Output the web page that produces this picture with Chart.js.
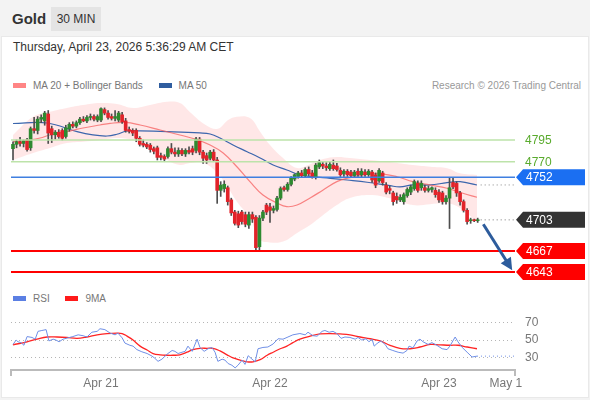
<!DOCTYPE html>
<html>
<head>
<meta charset="utf-8">
<title>Gold 30 MIN</title>
<script src="https://cdn.jsdelivr.net/npm/chart.js@4"></script>
<style>
  body {
    margin: 0;
    width: 590px;
    height: 400px;
    background: #f3f3f3;
    font-family: "Liberation Sans", Arial, sans-serif;
    position: relative;
    overflow: hidden;
  }
  .title { position: absolute; left: 12px; top: 10px; font-size: 15px; font-weight: bold; color: #333; }
  .badge {
    position: absolute; left: 51px; top: 7px; width: 50px; height: 24px; line-height: 24px;
    text-align: center; background: #e4e4e4; font-size: 12px; color: #333;
  }
  .card { position: absolute; left: 1px; top: 36px; width: 586px; height: 360px; background: #fff; border: 1px solid #e9e9e9; }
  .date { position: absolute; left: 13px; top: 40px; font-size: 12px; color: #333; }
  .legend { position: absolute; left: 13px; font-size: 10px; color: #777; white-space: nowrap; }
  .legend span.sw { display: inline-block; width: 13px; height: 5px; vertical-align: middle; margin-right: 7px; position: relative; top: -1px; }
  .legend span.item { margin-right: 13px; }
  .credit { position: absolute; right: 9px; top: 80px; font-size: 10px; color: #999; }
  canvas { position: absolute; left: 0; }
</style>
</head>
<body>

<div class="title">Gold</div>
<div class="badge">30 MIN</div>
<div class="card"></div>
<div class="date">Thursday, April 23, 2026 5:36:29 AM CET</div>

<div class="legend" style="top:80px">
  <span class="item"><span class="sw" style="background:#ff8585"></span>MA 20 + Bollinger Bands</span>
  <span class="item"><span class="sw" style="background:#2f5d9f"></span>MA 50</span>
</div>
<div class="credit">Research © 2026 Trading Central</div>

<div class="legend" style="top:293px">
  <span class="item"><span class="sw" style="background:#5b7fe3"></span>RSI</span>
  <span class="item"><span class="sw" style="background:#ff1a1a"></span>9MA</span>
</div>

<canvas id="main" width="590" height="196" style="top:92px"></canvas>
<canvas id="rsi" width="590" height="110" style="top:290px"></canvas>

<script>
// candles, 30 min each, index 0 = first bar on the chart
const candleOpen = [
  4785,4790,4793,4791,4795,4786,4808,4806,4819,4817,4825,4808,4801,4804,4806,4799,4808,4813,4811,4815,
  4819,4817,4821,4822,4818,4818,4830,4826,4822,4820,4818,4824,4817,4807,4806,4806,4797,4791,4790,4789,
  4785,4786,4777,4776,4776,4785,4781,4779,4783,4779,4783,4785,4783,4796,4781,4777,4774,4781,4772,4737,
  4739,4740,4726,4712,4710,4712,4709,4697,4709,4706,4672,4705,4720,4718,4714,4715,4728,4740,4738,4744,
  4750,4753,4757,4754,4761,4757,4752,4764,4767,4765,4762,4766,4765,4760,4756,4759,4758,4754,4759,4755,
  4758,4755,4758,4755,4748,4757,4743,4739,4734,4730,4726,4724,4731,4735,4739,4745,4740,4740,4737,4738,
  4737,4735,4734,4724,4728,4746,4745,4734,4724,4714,4702,4703,4702
];
const candleHigh = [
  4793,4795,4798,4795,4797,4810,4821,4822,4824,4828,4829,4811,4806,4807,4808,4812,4815,4816,4817,4821,
  4822,4823,4825,4824,4824,4832,4832,4829,4825,4829,4828,4827,4820,4810,4808,4808,4799,4795,4792,4791,
  4787,4788,4780,4778,4787,4791,4786,4786,4785,4785,4787,4788,4798,4798,4783,4780,4783,4784,4775,4747,
  4748,4742,4728,4714,4713,4714,4712,4712,4712,4708,4708,4714,4722,4722,4719,4730,4741,4742,4746,4753,
  4756,4759,4760,4763,4764,4760,4768,4772,4770,4769,4770,4772,4768,4763,4761,4761,4760,4760,4762,4762,
  4761,4761,4760,4757,4762,4759,4746,4742,4736,4734,4732,4734,4740,4743,4749,4748,4748,4743,4742,4741,
  4740,4738,4736,4731,4751,4751,4747,4736,4726,4716,4705,4704,4705
];
const candleLow = [
  4772,4786,4788,4787,4782,4783,4803,4802,4815,4812,4791,4792,4796,4797,4795,4797,4805,4809,4809,4813,
  4816,4815,4818,4817,4816,4816,4824,4819,4818,4817,4816,4814,4804,4803,4800,4793,4788,4787,4785,4781,
  4779,4772,4772,4770,4774,4779,4776,4776,4777,4776,4779,4778,4780,4778,4768,4768,4772,4770,4722,4730,
  4735,4720,4708,4697,4694,4698,4695,4693,4700,4667,4667,4702,4709,4700,4711,4713,4726,4736,4736,4742,
  4748,4751,4752,4752,4754,4751,4750,4762,4762,4760,4760,4760,4759,4753,4753,4753,4752,4752,4753,4752,
  4753,4753,4746,4740,4746,4743,4733,4733,4720,4722,4724,4721,4729,4732,4737,4735,4737,4735,4735,4735,
  4729,4723,4721,4721,4693,4739,4730,4720,4712,4698,4699,4701,4700
];
const candleClose = [
  4790,4793,4791,4794,4784,4808,4806,4819,4821,4826,4803,4801,4804,4799,4797,4809,4813,4811,4815,4819,
  4817,4821,4822,4819,4822,4831,4826,4821,4820,4822,4826,4816,4806,4805,4803,4797,4790,4789,4787,4784,
  4782,4775,4775,4773,4785,4781,4779,4783,4779,4783,4781,4781,4796,4781,4774,4772,4781,4772,4737,4743,
  4744,4724,4711,4699,4697,4701,4698,4709,4704,4671,4705,4712,4712,4714,4716,4728,4739,4738,4744,4751,
  4755,4757,4754,4761,4756,4753,4766,4769,4765,4763,4767,4762,4761,4755,4759,4755,4754,4758,4755,4759,
  4755,4759,4749,4743,4760,4746,4735,4737,4724,4726,4729,4732,4738,4741,4747,4737,4745,4737,4739,4740,
  4732,4726,4724,4728,4740,4741,4734,4724,4714,4701,4703,4702,4703
];

// moving averages and Bollinger bands (x = candle index)
const ma20X = [0,4.3,7.7,10.5,15.3,19.9,24.7,27.6,31.8,36.1,41.8,47.4,51.7,56,59.7,63.6,67.3,71,75,77.8,80.7,84.4,88.1,92,95.7,99.4,103.4,109.1,113.6,118.5,123.3,127.8,131.8];
const ma20Val = [4793,4795,4797.3,4800.8,4804.6,4808.8,4812.3,4814.2,4815.2,4812.3,4806.5,4800.8,4796.2,4789.2,4780,4764.2,4747,4731.6,4722.4,4718.2,4720.1,4728.2,4737.4,4747,4751.6,4754.7,4756.6,4752.7,4747,4743.2,4739.4,4733.6,4729];

const ma50X = [0,9.7,18.2,22.7,26.7,29.5,32.4,36.1,43.8,53.1,56,58.8,62.5,66.5,70.2,73.9,77.8,81.5,85.2,90.1,94.9,100.6,107.1,109.9,113.6,118.5,123.3,127,131.8];
const ma50Val = [4814,4814.6,4804.6,4800.8,4799.6,4801.6,4805.4,4805.4,4804.6,4803.1,4801.9,4797.3,4789.2,4781.5,4774.3,4766.2,4760.4,4754.7,4752.7,4750.9,4748.9,4746.3,4742.4,4741,4743.2,4743.2,4745.8,4747,4743.2];

const bandX = [0,5.7,10.5,15.3,19.9,24.7,29.5,34.1,38.9,43.8,47.4,50.3,54.5,58.2,61.1,63.6,67.3,70.2,73,76.7,80.7,84.4,88.1,92,95.7,101.4,107.1,113.6,118.5,123.3,127,131.8];
const bandUpper = [4800.8,4821.8,4827.6,4832,4835.3,4837.6,4836.5,4831.9,4835.3,4839.1,4837.6,4827,4813,4808,4818,4821.8,4820.3,4804.6,4789.2,4774.3,4762.7,4767,4773,4775.5,4774.3,4772,4769.7,4766.2,4764.2,4762.4,4756.6,4754.7];
const bandLower = [4772,4780,4785.8,4791.5,4793,4795,4797.3,4795,4787.3,4772,4766.2,4768.5,4768,4756,4740,4723.9,4705.1,4680,4677,4678,4688,4697.1,4708.6,4720.1,4728.2,4731.6,4727.8,4720,4721,4722,4716.7,4700.5];

// key levels on the right
const levelValues = [4795, 4770, 4752, 4703, 4667, 4643];
const levelKinds = ['res', 'res', 'pivot', 'last', 'sup', 'sup'];
const arrowFrom = [133.6, 4698];
const arrowTo = [141.8, 4645];

// RSI panel
const rsiX = [0,0.9,1.4,2.3,3.1,4,5.4,6.3,7.1,8.2,9.4,10.2,11.4,12.2,13.1,14.2,15.6,17,18.5,19.9,21,22.4,23.9,24.7,26.1,27.6,29,29.8,31,31.8,
  33.2,34.1,35.2,36.6,38.1,39.5,40.3,41.2,42.3,43.2,44,45.2,46,46.9,48,48.9,49.7,50.9,52.3,53.1,54.3,55.4,56.5,57.4,58.2,59.4,60.2,61.1,62.2,63.1,
  63.9,65.1,65.9,66.8,67.9,68.8,69.6,71,72.4,73.9,75.3,76.7,78.1,79.5,81.5,83,83.8,85.2,86.4,87.8,88.6,89.8,90.9,92,93.2,94.3,95.7,97.2,98,99.1,
  100.3,101.1,102,102.6,103.4,104.5,105.7,106.5,107.9,109.4,110.8,111.9,112.5,113.6,114.8,115.6,116.5,117.9,119,120.4,121.9,123.3,124.1,125.6,126.4,127.6,129,130.4,131.8];
const rsiVal = [45,50,48,47,44,54,53,51,60,61,62,49,51,50,48,51,52.5,54,56,55,53.5,59,60,63,62,58,56,58,52.5,46.5,
  44,43,39,36.5,34.5,31.5,29,25.5,28,31.5,34.5,38,37,34.5,36,37,43,37,51,41.5,37,40,41.5,36,25.5,28,27,23,21,18,
  21,27,22,32,28,25,40,41.5,42,45.5,51.5,51,53.5,56,57.5,56,59,55,54.5,60,61,59,60,57.5,52,53.5,53,51,53,50,
  51.5,48,51,43,46,49,45,40,38,36,35,38,43,41,49,51,48,45,47,44,40,39,43,53.5,48,41.5,36,30.5,31.5];

const rsiMaX = [0,4,6.8,9.7,12.5,15.3,18.2,21,23.9,26.7,29.5,31,32.4,34.1,36.1,38.1,39.8,41.8,43.8,45.5,47.4,49.4,51.1,53.1,55.1,56.8,58.8,60.8,62.5,64.5,
  66.5,68.2,70.2,72.2,73.9,75.9,77.8,79.5,81.5,84.4,87.2,90.1,92.9,95.7,98.6,101.4,104.3,107.1,109.9,112.8,115.6,118.5,121.3,124.1,126.4,129,131.8];
const rsiMaVal = [44.5,48,51,53.5,53.5,53,52,53.5,56,57.5,58,57.5,54.5,50,43,38.5,34.5,33,32.5,32.5,33,36,39,40.5,40.5,40.5,37.5,33,29.5,27,
  25,25,27.5,32.5,36,40,43,47,51,54.5,57,57.5,57,56,53.5,51.5,49,44,40.5,40,42,45,44.5,44,44,42,40];
const rsiLevels = [30, 50, 70];

// time axis
const tickIdx = [25, 73, 121, 140];
const tickLabels = ['Apr 21', 'Apr 22', 'Apr 23', 'May 1'];

// view
const xMin = -0.57, xMax = 142.6;
const priceMin = 4624.5, priceMax = 4850.3;
const rsiMin = 15.56, rsiMax = 87.78;

Chart.defaults.font.family = '"Liberation Sans", Arial, sans-serif';

const idx = candleClose.map((_, i) => i);
const pts = (xs, ys) => xs.map((v, k) => ({ x: v, y: ys[k] }));

const levelStyle = {
  res:   { line: '#bde3aa', width: 1.6, text: '#5aab2e' },
  pivot: { line: '#3f7fe0', width: 1.5, tag: '#1b6ff2' },
  last:  { tag: '#333333', dotted: true },
  sup:   { line: '#ff0000', width: 2, tag: '#ff0000' }
};

const overlayPlugin = {
  id: 'overlay',
  afterDatasetsDraw(chart) {
    const { ctx, chartArea: area, scales: { x, y } } = chart;
    const endX = x.getPixelForValue(idx.length - 1) + 3;
    ctx.save();
    ctx.font = '12px "Liberation Sans", Arial, sans-serif';
    ctx.textBaseline = 'middle';

    // dotted extension of MA 50
    ctx.setLineDash([1, 3]);
    ctx.strokeStyle = '#888';
    ctx.lineWidth = 1;
    const maY = y.getPixelForValue(ma50Val[ma50Val.length - 1]);
    ctx.beginPath(); ctx.moveTo(endX, maY); ctx.lineTo(area.right, maY); ctx.stroke();
    ctx.setLineDash([]);

    levelValues.forEach((v, k) => {
      const st = levelStyle[levelKinds[k]];
      const py = y.getPixelForValue(v);
      if (st.line) {
        ctx.strokeStyle = st.line;
        ctx.lineWidth = st.width;
        ctx.beginPath(); ctx.moveTo(area.left, py); ctx.lineTo(area.right, py); ctx.stroke();
      }
      if (st.dotted) {
        ctx.setLineDash([1, 3]);
        ctx.strokeStyle = '#777';
        ctx.lineWidth = 1;
        ctx.beginPath(); ctx.moveTo(endX, py); ctx.lineTo(area.right, py); ctx.stroke();
        ctx.setLineDash([]);
      }
      if (st.tag) {
        const tip = area.right + 1, h = 8;
        ctx.fillStyle = st.tag;
        ctx.beginPath();
        ctx.moveTo(tip, py);
        ctx.lineTo(tip + 7, py - h);
        ctx.lineTo(585, py - h);
        ctx.lineTo(585, py + h);
        ctx.lineTo(tip + 7, py + h);
        ctx.closePath();
        ctx.fill();
        ctx.fillStyle = '#fff';
        ctx.fillText(String(v), area.right + 11, py + 0.5);
      } else {
        ctx.fillStyle = st.text;
        ctx.fillText(String(v), area.right + 10, py + 0.5);
      }
    });

    // forecast arrow
    const x0 = x.getPixelForValue(arrowFrom[0]), y0 = y.getPixelForValue(arrowFrom[1]);
    const x1 = x.getPixelForValue(arrowTo[0]), y1 = y.getPixelForValue(arrowTo[1]);
    const ang = Math.atan2(y1 - y0, x1 - x0);
    const head = 12;
    ctx.strokeStyle = '#2d5c9c';
    ctx.fillStyle = '#2d5c9c';
    ctx.lineWidth = 3;
    ctx.beginPath();
    ctx.moveTo(x0, y0);
    ctx.lineTo(x1 - head * 0.8 * Math.cos(ang), y1 - head * 0.8 * Math.sin(ang));
    ctx.stroke();
    ctx.beginPath();
    ctx.moveTo(x1, y1);
    ctx.lineTo(x1 - head * Math.cos(ang) + 6 * Math.sin(ang), y1 - head * Math.sin(ang) - 6 * Math.cos(ang));
    ctx.lineTo(x1 - head * Math.cos(ang) - 6 * Math.sin(ang), y1 - head * Math.sin(ang) + 6 * Math.cos(ang));
    ctx.closePath();
    ctx.fill();
    ctx.restore();
  }
};

new Chart(document.getElementById('main'), {
  type: 'bar',
  data: {
    datasets: [
      { type: 'line', data: pts(bandX, bandUpper), borderWidth: 0, pointRadius: 0, tension: 0.4, fill: false, order: 10 },
      { type: 'line', data: pts(bandX, bandLower), borderWidth: 0, pointRadius: 0, tension: 0.4, fill: '-1',
        backgroundColor: 'rgba(255,70,70,0.13)', order: 9 },
      { type: 'line', data: pts(ma50X, ma50Val), borderColor: '#3c66ad', borderWidth: 1.2, pointRadius: 0, tension: 0.4, order: 6 },
      { type: 'line', data: pts(ma20X, ma20Val), borderColor: 'rgba(245,95,95,0.75)', borderWidth: 1.2, pointRadius: 0, tension: 0.4, order: 5 },
      { data: idx.map(i => ({ x: i, y: [candleLow[i], candleHigh[i]] })), backgroundColor: '#4d4d4d',
        barThickness: 1, grouped: false, order: 2 },
      { data: idx.map(i => ({ x: i, y: [candleOpen[i], candleClose[i]] })),
        backgroundColor: idx.map(i => candleClose[i] >= candleOpen[i] ? '#2e8a30' : '#e2232a'),
        barThickness: 3, minBarLength: 1, grouped: false, order: 1 }
    ]
  },
  options: {
    responsive: false,
    animation: false,
    layout: { padding: { left: 11, right: 75, top: 0, bottom: 0 } },
    plugins: { legend: { display: false }, tooltip: { enabled: false } },
    scales: {
      x: { type: 'linear', min: xMin, max: xMax, offset: false, display: false },
      y: { min: priceMin, max: priceMax, display: false }
    }
  },
  plugins: [overlayPlugin]
});

const rsiPlugin = {
  id: 'rsiExtras',
  afterDatasetsDraw(chart) {
    const { ctx, chartArea: area, scales: { x, y } } = chart;
    ctx.save();
    // dotted continuation of the last RSI value
    const lx = x.getPixelForValue(rsiX[rsiX.length - 1]);
    const ly = y.getPixelForValue(rsiVal[rsiVal.length - 1]);
    ctx.setLineDash([1, 3]);
    ctx.strokeStyle = '#6f8fe6';
    ctx.lineWidth = 1;
    ctx.beginPath(); ctx.moveTo(lx, ly); ctx.lineTo(area.right, ly); ctx.stroke();
    ctx.setLineDash([]);
    // end caps on the time axis
    ctx.strokeStyle = '#bbb';
    ctx.lineWidth = 2;
    [area.left, area.right].forEach(px => {
      ctx.beginPath(); ctx.moveTo(px, area.bottom); ctx.lineTo(px, area.bottom + 6); ctx.stroke();
    });
    ctx.restore();
  }
};

new Chart(document.getElementById('rsi'), {
  type: 'line',
  data: {
    datasets: [
      { data: pts(rsiX, rsiVal), borderColor: '#6f8fe6', borderWidth: 1, pointRadius: 0, tension: 0 },
      { data: pts(rsiMaX, rsiMaVal), borderColor: '#ff2424', borderWidth: 1.3, pointRadius: 0, tension: 0.4 }
    ]
  },
  options: {
    responsive: false,
    animation: false,
    layout: { padding: { left: 11, right: 0, top: 15, bottom: 10 } },
    plugins: { legend: { display: false }, tooltip: { enabled: false } },
    scales: {
      x: {
        type: 'linear', min: xMin, max: xMax, offset: false,
        grid: { display: false, drawTicks: false },
        border: { color: '#bbb', width: 2 },
        afterBuildTicks: s => { s.ticks = tickIdx.map(v => ({ value: v })); },
        afterFit: s => { s.height = 20; },
        ticks: { color: '#777', font: { size: 12 }, padding: 6, maxRotation: 0, autoSkip: false,
                 callback: (v, i) => tickLabels[i] }
      },
      y: {
        position: 'right', min: rsiMin, max: rsiMax,
        afterBuildTicks: s => { s.ticks = rsiLevels.map(v => ({ value: v })); },
        afterFit: s => { s.width = 75; },
        grid: { color: '#b5b5b5', drawTicks: false, lineWidth: 1 },
        border: { display: false, dash: [1, 3] },
        ticks: { color: '#777', font: { size: 12 }, padding: 10 }
      }
    }
  },
  plugins: [rsiPlugin]
});
</script>
</body>
</html>
